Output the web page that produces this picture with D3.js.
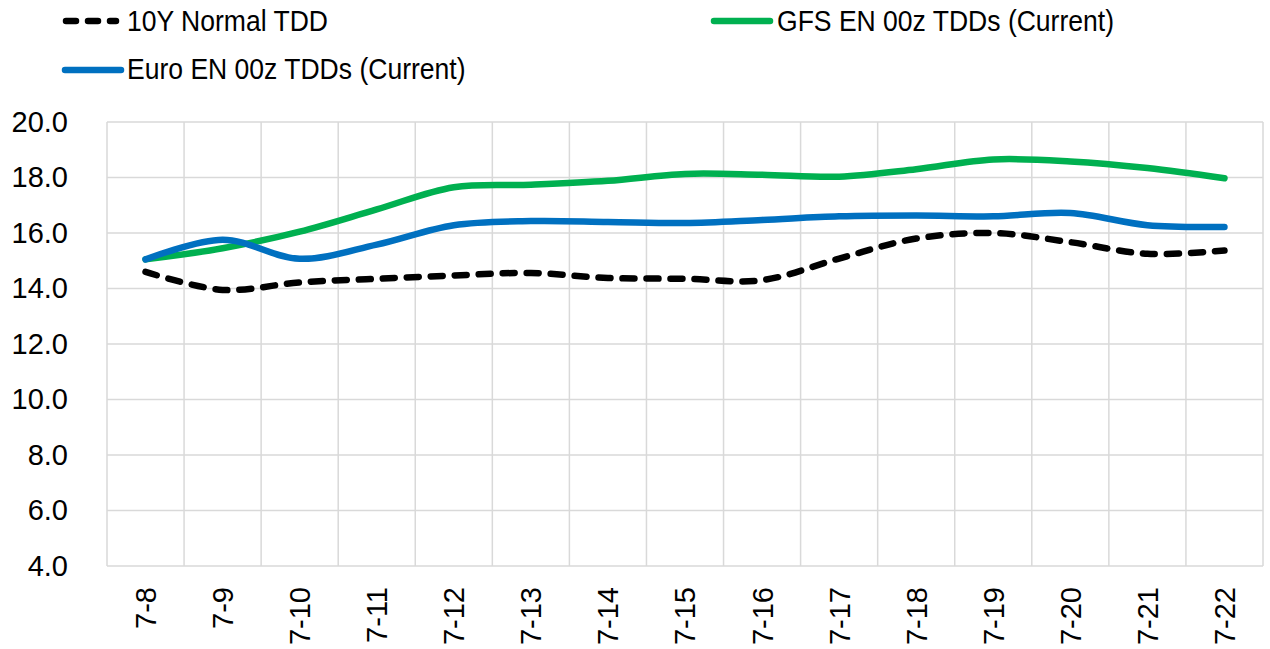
<!DOCTYPE html>
<html>
<head>
<meta charset="utf-8">
<script src="https://cdn.jsdelivr.net/npm/d3@7"></script>
<style>
  body { margin: 0; background: #fff; }
  text { font-family: "Liberation Sans", Arial, sans-serif; fill: #000; }
</style>
</head>
<body>
<div id="chart"></div>
<script>
// dates along the x axis
const days = ['7-8', '7-9', '7-10', '7-11', '7-12', '7-13', '7-14', '7-15',
  '7-16', '7-17', '7-18', '7-19', '7-20', '7-21', '7-22'];

// values
const normalTdd = [14.6, 13.95, 14.22, 14.35, 14.47, 14.56, 14.38, 14.35,
  14.3, 15.08, 15.8, 16.0, 15.67, 15.25, 15.37];
const gfsTdd = [15.05, 15.45, 16.05, 16.85, 17.65, 17.74, 17.88, 18.13,
  18.1, 18.03, 18.3, 18.65, 18.58, 18.34, 17.97];
const euroTdd = [15.05, 15.76, 15.07, 15.58, 16.28, 16.43, 16.4, 16.36,
  16.47, 16.6, 16.63, 16.6, 16.72, 16.28, 16.22];

const yTicks = [4, 6, 8, 10, 12, 14, 16, 18, 20];

const width = 1270;
const height = 649;
const margin = { top: 122, right: 7, bottom: 83, left: 107 };

const svg = d3.select('#chart')
  .append('svg')
  .attr('width', width)
  .attr('height', height);

const x = d3.scaleBand()
  .domain(days)
  .range([margin.left, width - margin.right])
  .padding(0);

const y = d3.scaleLinear()
  .domain([4, 20])
  .range([height - margin.bottom, margin.top]);

// grid (horizontal)
svg.append('g')
  .selectAll('line')
  .data(yTicks)
  .enter()
  .append('line')
  .attr('x1', margin.left)
  .attr('x2', width - margin.right)
  .attr('y1', d => y(d))
  .attr('y2', d => y(d))
  .attr('stroke', '#d9d9d9')
  .attr('stroke-width', 1.5);

// grid (vertical, at category edges)
const edges = days.map(d => x(d)).concat([x(days[days.length - 1]) + x.bandwidth()]);
svg.append('g')
  .selectAll('line')
  .data(edges)
  .enter()
  .append('line')
  .attr('x1', d => d)
  .attr('x2', d => d)
  .attr('y1', y(20))
  .attr('y2', y(4))
  .attr('stroke', '#d9d9d9')
  .attr('stroke-width', 1.5);

// y axis labels
const yAxis = svg.append('g')
  .attr('transform', `translate(${margin.left - 39},0)`)
  .call(d3.axisLeft(y).tickValues(yTicks).tickFormat(d3.format('.1f')).tickSize(0).tickPadding(0));
yAxis.select('.domain').remove();
yAxis.selectAll('text')
  .style('font-size', '29px')
  .style('font-family', '"Liberation Sans", Arial, sans-serif')
  .attr('fill', '#000');

// x axis labels, rotated
const xAxis = svg.append('g')
  .attr('transform', `translate(0,${height - margin.bottom})`)
  .call(d3.axisBottom(x).tickSize(0).tickPadding(0));
xAxis.select('.domain').remove();
xAxis.selectAll('text')
  .style('font-size', '29px')
  .style('font-family', '"Liberation Sans", Arial, sans-serif')
  .attr('fill', '#000')
  .attr('text-anchor', 'end')
  .attr('transform', 'rotate(-90)')
  .attr('x', -21)
  .attr('y', 0)
  .attr('dy', '0.36em');

const line = d3.line()
  .x((d, i) => x(days[i]) + x.bandwidth() / 2)
  .y(d => y(d))
  .curve(d3.curveCatmullRom.alpha(0.5));

const series = [
  { name: '10Y Normal TDD', values: normalTdd, color: '#000000', dash: '12,12' },
  { name: 'GFS EN 00z TDDs (Current)', values: gfsTdd, color: '#00B050', dash: null },
  { name: 'Euro EN 00z TDDs (Current)', values: euroTdd, color: '#0070C0', dash: null }
];

svg.append('g')
  .selectAll('path')
  .data(series)
  .enter()
  .append('path')
  .attr('d', d => line(d.values))
  .attr('fill', 'none')
  .attr('stroke', d => d.color)
  .attr('stroke-width', 6.5)
  .attr('stroke-linecap', 'round')
  .attr('stroke-linejoin', 'round')
  .attr('stroke-dasharray', d => d.dash);

// legend
const legendSpots = [
  { s: series[0], x1: 66, x2: 116, cy: 21, tx: 127, ty: 31 },
  { s: series[1], x1: 714, x2: 770, cy: 21, tx: 777, ty: 31 },
  { s: series[2], x1: 65, x2: 121, cy: 70, tx: 127, ty: 79 }
];

const legend = svg.append('g');
legendSpots.forEach(l => {
  legend.append('line')
    .attr('x1', l.x1)
    .attr('x2', l.x2)
    .attr('y1', l.cy)
    .attr('y2', l.cy)
    .attr('stroke', l.s.color)
    .attr('stroke-width', 6.5)
    .attr('stroke-linecap', 'round')
    .attr('stroke-dasharray', l.s.dash ? '10,12' : null);
  legend.append('text')
    .attr('transform', `translate(${l.tx},${l.ty}) scale(0.915,1)`)
    .style('font-size', '29px')
    .text(l.s.name);
});
</script>
</body>
</html>
